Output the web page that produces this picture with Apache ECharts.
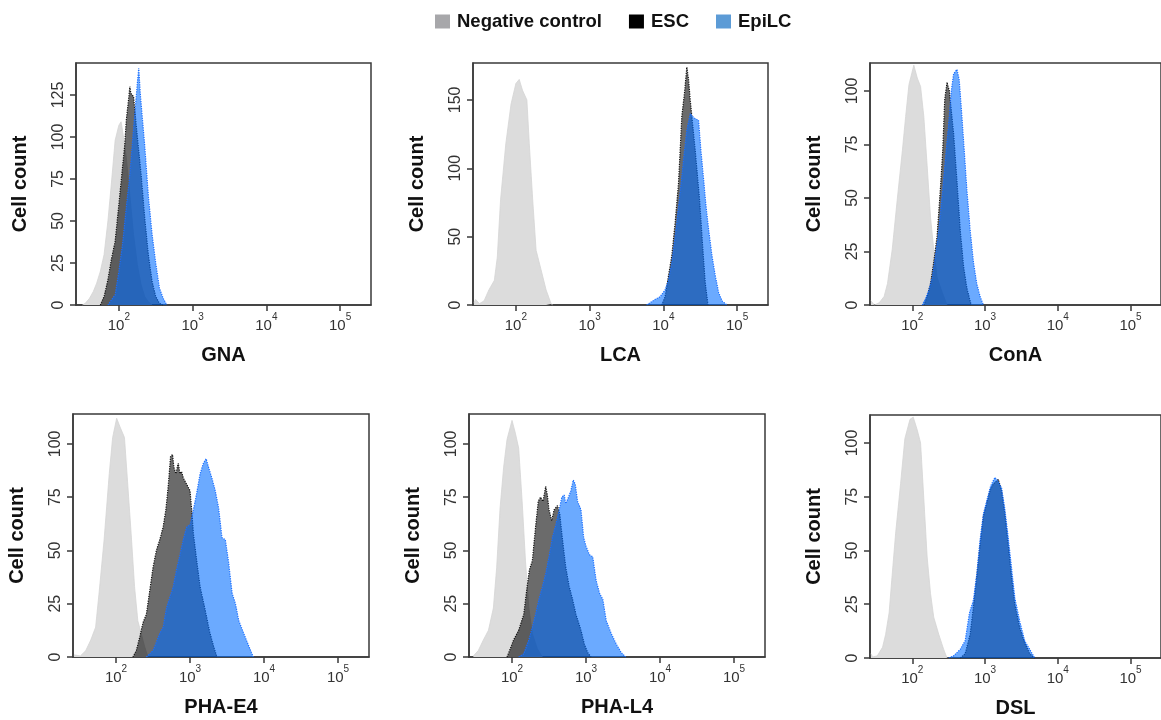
<!DOCTYPE html>
<html><head><meta charset="utf-8">
<script src="https://cdn.jsdelivr.net/npm/echarts@6/dist/echarts.min.js"></script>
<style>html,body{margin:0;padding:0;background:#fff}#chart{width:1161px;height:720px}</style>
</head><body><div id="chart"></div>
<script>
// ---------------- data ----------------
const seriesNames = ['Negative control', 'ESC', 'EpiLC'];
const panelNames = ['GNA', 'LCA', 'ConA', 'PHA-E4', 'PHA-L4', 'DSL'];
const yMaxes = [144, 177, 113, 114, 114, 113];
const yTickValues = [
  [0, 25, 50, 75, 100, 125],
  [0, 50, 100, 150],
  [0, 25, 50, 75, 100],
  [0, 25, 50, 75, 100],
  [0, 25, 50, 75, 100],
  [0, 25, 50, 75, 100]
];
const xTickValues = [100, 1000, 10000, 100000];
const xTickExponents = ['2', '3', '4', '5'];
const xMin = 26.2144, xMax = 262144;
const yAxisTitle = 'Cell count';

// [fluorescence intensity, cell count]
const gnaNeg = [[32,0],[35,1],[40,4],[45,8],[50,13],[56,20],[63,30],[71,50],[79,72],[89,98],[100,107],[107,109],[112,104],[126,88],[141,65],[158,42],[178,24],[200,12],[224,5],[251,2],[282,0]];
const gnaEsc = [[56,0],[63,5],[71,15],[79,27],[89,38],[100,60],[112,82],[120,95],[126,110],[135,122],[141,130],[145,126],[148,125],[158,124],[178,100],[200,78],[224,52],[251,30],[282,14],[316,5],[355,1],[398,0]];
const gnaEpi = [[71,0],[79,3],[89,6],[100,20],[112,36],[126,58],[141,78],[158,105],[178,132],[186,141],[195,126],[200,120],[224,95],[251,65],[282,42],[316,25],[355,10],[398,4],[447,0]];

const lcaNeg = [[27,2],[28.5,4],[32,1],[37,3],[43,11],[51,18],[56,35],[62,77],[73,118],[86,147],[100,162],[111,165],[123,157],[141,150],[152,118],[169,77],[188,40],[219,26],[257,11],[300,1],[316,0]];
const lcaEsc = [[9480,0],[10540,6],[11700,21],[13000,36],[14420,60],[16030,89],[16870,113],[17780,138],[19320,155],[20800,174],[21930,165],[23110,150],[27040,113],[30970,77],[34390,40],[37000,16],[40260,0]];
const lcaEpi = [[5930,0],[6240,1],[7690,4],[9010,6],[10540,11],[11700,18],[13000,31],[14420,50],[16030,72],[17780,94],[19320,113],[20800,128],[23110,140],[25650,137],[30000,135],[32290,113],[35100,92],[37760,73],[41100,55],[45600,36],[50700,21],[56230,9],[62400,3],[73100,0]];

const conaNeg = [[27,2],[30,0],[35,1],[41,4],[45.6,10],[53,26],[62,49],[73,72],[81,88],[90,103],[105,112],[117,106],[130,102],[144,88],[160,65],[178,41],[197,26],[219,13],[257,6],[300,0]];
const conaEsc = [[144,0],[160,4],[178,10],[197,20],[219,32],[243,54],[262,72],[279,96],[300,104],[323,100],[370,80],[411,58],[456,35],[507,18],[562,8],[644,0]];
const conaEpi = [[137,0],[152,3],[169,7],[188,13],[208,23],[231,35],[257,51],[285,68],[316,85],[344,100],[370,108],[411,110],[442,105],[481,88],[518,72],[562,54],[624,35],[693,20],[769,10],[855,4],[949,0]];

const phae4Neg = [[27,1],[33,0.5],[39,3],[45.6,8],[53,14],[59,30],[69,55],[81,86],[90,103],[102,112],[113,108],[130,103],[144,81],[160,58],[178,33],[197,17],[219,11],[243,5],[270,0]];
const phae4Esc = [[169,0],[188,3],[208,9],[231,16],[257,20],[285,31],[316,42],[351,50],[390,55],[433,61],[471,69],[507,80],[545,94],[580,95],[605,89],[644,86],[693,91],[731,86],[769,87],[811,84],[901,81],[1000,78],[1054,69],[1110,58],[1233,45],[1368,33],[1603,22],[1837,12],[2081,5],[2311,0]];
const phae4Epi = [[257,0],[316,3],[390,11],[433,14],[481,23],[533,28],[593,33],[658,41],[731,48],[811,55],[901,61],[1000,62],[1110,69],[1233,77],[1368,86],[1520,91],[1652,93],[1778,89],[1972,84],[2191,78],[2432,70],[2702,56],[3000,55],[3334,44],[3700,30],[4110,25],[4560,17],[5330,11],[6240,5],[7160,0]];

const phal4Neg = [[30,0.5],[35,3],[41,8],[48,12.5],[56,23],[62,42],[69,70],[77,89],[85.5,102],[100,111],[111,105],[123,98],[137,73],[152,45],[169,23],[188,11],[219,4],[257,0]];
const phal4Esc = [[85.5,0],[95,4],[105,8],[123,12.5],[144,20],[160,33],[172,41],[188,45],[208,61],[226,73],[243,75],[262,73],[285,80],[300,76],[316,69],[344,64],[370,69],[411,71],[442,67],[481,55],[533,42],[593,33],[658,27],[731,20],[855,12.5],[949,6],[1054,2],[1170,0]];
const phal4Epi = [[123,0],[144,1.5],[169,8],[188,14],[208,20],[231,27],[257,33],[285,39],[316,47],[351,56],[390,62],[433,69],[471,75],[507,76],[533,72],[580,75],[624,78],[672,83],[716,81],[769,73],[855,69],[929,56],[1000,52],[1110,48],[1233,47],[1368,36],[1520,30],[1687,27],[1875,17],[2191,11],[2565,6],[3000,2],[3436,0]];

const dslNeg = [[27,2],[28.5,0.5],[33,1],[39,5],[43,11],[48,21],[53,39],[59,58],[69,81],[79,102],[93,111],[103,112],[117,106],[130,100],[144,74],[160,47],[178,30],[197,19],[231,11],[270,4],[300,0]];
const dslEsc = [[456,0],[533,2],[624,11],[693,24],[769,38],[855,53],[949,66],[1054,72],[1170,78],[1300,81],[1520,83],[1687,78],[1875,67],[2081,53],[2311,38],[2565,25],[3000,14],[3510,7],[4110,2],[4810,0]];
const dslEpi = [[316,0],[370,1],[456,4],[533,8],[611,21],[693,27],[769,39],[855,55],[949,67],[1054,73],[1194,80],[1368,84],[1520,82],[1687,79],[1875,69],[2081,56],[2311,42],[2565,28],[3000,17],[3510,8],[4110,4],[4810,0]];

const panelData = [
  [gnaNeg, gnaEsc, gnaEpi],
  [lcaNeg, lcaEsc, lcaEpi],
  [conaNeg, conaEsc, conaEpi],
  [phae4Neg, phae4Esc, phae4Epi],
  [phal4Neg, phal4Esc, phal4Epi],
  [dslNeg, dslEsc, dslEpi]
];

// ---------------- layout / style ----------------
const FONT = '"Liberation Sans", Arial, Helvetica, sans-serif';
const AXIS_COLOR = '#3a3a3a';
const grids = [
  {left: 76,  top: 63,  width: 295, height: 242},
  {left: 473, top: 63,  width: 295, height: 242},
  {left: 870, top: 63,  width: 295, height: 242},
  {left: 73,  top: 414, width: 296, height: 243},
  {left: 469, top: 414, width: 296, height: 243},
  {left: 870, top: 415, width: 295, height: 243}
];
const areaColors = ['#dcdcdc', 'rgba(0,0,0,0.58)', 'rgba(0,108,255,0.58)'];
const lineStyles = [
  {color: '#d4d4d4', width: 0.8, type: 'solid'},
  {color: '#111111', width: 1.2, type: 'dotted'},
  {color: '#1a6eff', width: 1.2, type: 'dotted'}
];
const legendColors = ['#a7a7aa', '#000000', '#5c9bd6'];

const option = {
  animation: false,
  backgroundColor: '#ffffff',
  textStyle: {fontFamily: FONT},
  legend: {
    left: 430, top: 7,
    icon: 'rect', itemWidth: 15, itemHeight: 14, itemGap: 27,
    itemStyle: {borderWidth: 0},
    textStyle: {fontSize: 18.5, fontWeight: 'bold', color: '#111', fontFamily: FONT, padding: [0, 0, 0, 2]},
    data: seriesNames.map((n, k) => ({name: n, itemStyle: {color: legendColors[k], borderWidth: 0}}))
  },
  grid: grids.map(g => Object.assign({show: true, borderColor: AXIS_COLOR, borderWidth: 1.5, backgroundColor: 'transparent'}, g)),
  xAxis: grids.map((g, i) => ({
    type: 'log', logBase: 10, gridIndex: i, min: xMin, max: xMax,
    name: panelNames[i], nameLocation: 'middle', nameGap: 40,
    nameTextStyle: {fontSize: 20, fontWeight: 'bold', color: '#111', fontFamily: FONT},
    axisLine: {show: true, onZero: false, lineStyle: {color: AXIS_COLOR, width: 1.5}},
    axisTick: {show: true, customValues: xTickValues, length: 6, lineStyle: {color: AXIS_COLOR, width: 1.5}},
    minorTick: {show: false},
    splitLine: {show: false},
    axisLabel: {
      customValues: xTickValues, margin: 7,
      formatter: v => {
        let k = xTickValues.findIndex(t => Math.abs(t - v) / t < 1e-6);
        return '{b|10}{s|' + (k >= 0 ? xTickExponents[k] : '') + '}';
      },
      rich: {
        b: {fontSize: 15, color: '#333', fontFamily: FONT, lineHeight: 21, verticalAlign: 'bottom'},
        s: {fontSize: 10, color: '#333', fontFamily: FONT, lineHeight: 12, verticalAlign: 'top'}
      }
    }
  })),
  yAxis: grids.map((g, i) => ({
    type: 'value', gridIndex: i, min: 0, max: yMaxes[i],
    name: yAxisTitle, nameLocation: 'middle', nameGap: 46,
    nameTextStyle: {fontSize: 20, fontWeight: 'bold', color: '#111', fontFamily: FONT},
    axisLine: {show: true, lineStyle: {color: AXIS_COLOR, width: 1.5}},
    axisTick: {show: true, customValues: yTickValues[i], length: 6, lineStyle: {color: AXIS_COLOR, width: 1.5}},
    splitLine: {show: false},
    axisLabel: {customValues: yTickValues[i], rotate: 90, margin: 9, fontSize: 16, color: '#333', fontFamily: FONT}
  })),
  series: []
};

panelData.forEach((curves, i) => {
  curves.forEach((data, k) => {
    option.series.push({
      type: 'line', name: seriesNames[k], xAxisIndex: i, yAxisIndex: i,
      data: data, showSymbol: false, symbol: 'none', smooth: false,
      color: legendColors[k],
      lineStyle: lineStyles[k],
      areaStyle: {color: areaColors[k], opacity: 1},
      z: 2 + k
    });
  });
});

const chart = echarts.init(document.getElementById('chart'), null, {renderer: 'canvas'});
chart.setOption(option);
</script>
</body></html>
